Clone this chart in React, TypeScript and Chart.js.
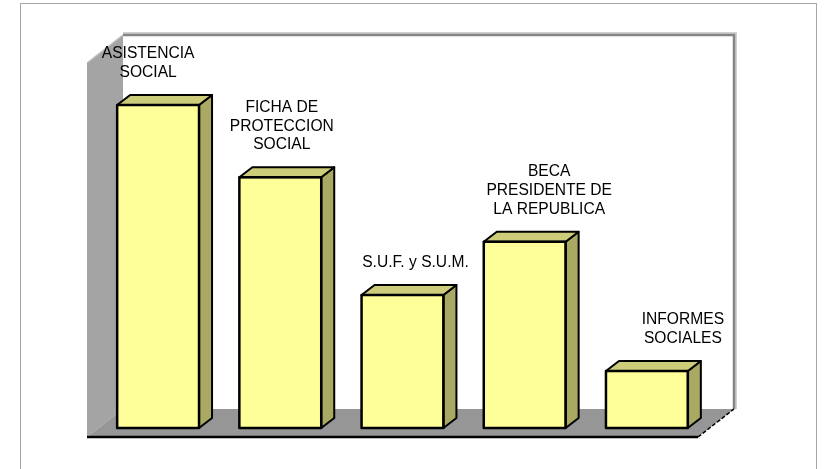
import React, { useEffect, useRef } from "react";
import { Chart, registerables } from "chart.js";

Chart.register(...registerables);

const categories = [
  "ASISTENCIA SOCIAL",
  "FICHA DE PROTECCION SOCIAL",
  "S.U.F. y S.U.M.",
  "BECA PRESIDENTE DE LA REPUBLICA",
  "INFORMES SOCIALES",
];
const labelLines = [
  ["ASISTENCIA", "SOCIAL"],
  ["FICHA DE", "PROTECCION", "SOCIAL"],
  ["S.U.F. y S.U.M."],
  ["BECA", "PRESIDENTE DE", "LA REPUBLICA"],
  ["INFORMES", "SOCIALES"],
];
const values = [170, 132, 70, 98, 30];
const yMax = 200;

const threeD = {
  id: "threeD",
  beforeDatasetsDraw(chart: any) {
    const { ctx, chartArea } = chart;
    const L = chartArea.left, R = chartArea.right, B = chartArea.bottom, T = chartArea.top;
    const dx = 36, dy = -28;
    const fy = B + 9;
    const fl = L - 10, fr = R - 10;
    const wallTop = T - 13;
    ctx.save();
    ctx.strokeStyle = "#a6a6a6";
    ctx.lineWidth = 1;
    ctx.strokeRect(20.5, 3.5, 796, 480);
    ctx.fillStyle = "#ffffff";
    ctx.fillRect(fl + dx, wallTop, fr - fl, fy + dy - wallTop);
    ctx.fillStyle = "#a4a4a4";
    ctx.beginPath();
    ctx.moveTo(fl, wallTop - dy);
    ctx.lineTo(fl + dx, wallTop);
    ctx.lineTo(fl + dx, fy + dy);
    ctx.lineTo(fl, fy);
    ctx.closePath();
    ctx.fill();
    ctx.fillStyle = "#969696";
    ctx.beginPath();
    ctx.moveTo(fl, fy);
    ctx.lineTo(fl + dx, fy + dy);
    ctx.lineTo(fr + dx, fy + dy);
    ctx.lineTo(fr, fy);
    ctx.closePath();
    ctx.fill();
    ctx.strokeStyle = "#d0d0d0";
    ctx.lineWidth = 2;
    ctx.beginPath();
    ctx.moveTo(fl + dx, wallTop - 2);
    ctx.lineTo(fr + dx + 2, wallTop - 2);
    ctx.lineTo(fr + dx + 2, fy + dy);
    ctx.stroke();
    ctx.strokeStyle = "#858585";
    ctx.lineWidth = 2.5;
    ctx.beginPath();
    ctx.moveTo(fl + dx, wallTop);
    ctx.lineTo(fr + dx, wallTop);
    ctx.lineTo(fr + dx, fy + dy);
    ctx.stroke();
    ctx.strokeStyle = "#bdbdbd";
    ctx.lineWidth = 1.5;
    ctx.beginPath();
    ctx.moveTo(fl, wallTop - dy);
    ctx.lineTo(fl + dx, wallTop);
    ctx.stroke();
    ctx.strokeStyle = "#000";
    ctx.lineWidth = 2.5;
    ctx.beginPath();
    ctx.moveTo(fl, fy);
    ctx.lineTo(fr, fy);
    ctx.stroke();
    ctx.lineWidth = 1.5;
    ctx.setLineDash([4, 2]);
    ctx.beginPath();
    ctx.moveTo(fr, fy);
    ctx.lineTo(fr + dx, fy + dy);
    ctx.stroke();
    ctx.restore();
  },
  afterDatasetsDraw(chart: any) {
    const { ctx } = chart;
    const meta = chart.getDatasetMeta(0);
    const ddx = 13, ddy = -10;
    ctx.save();
    ctx.lineJoin = "round";
    meta.data.forEach((bar: any, i: number) => {
      const p = bar.getProps(["x", "y", "base", "width"], true);
      const left = p.x - p.width / 2;
      const right = p.x + p.width / 2;
      const top = p.y;
      const bottom = p.base;
      ctx.strokeStyle = "#000";
      ctx.lineWidth = 2;
      ctx.fillStyle = "#a9a964";
      ctx.beginPath();
      ctx.moveTo(right, top);
      ctx.lineTo(right + ddx, top + ddy);
      ctx.lineTo(right + ddx, bottom + ddy);
      ctx.lineTo(right, bottom);
      ctx.closePath();
      ctx.fill();
      ctx.stroke();
      ctx.fillStyle = "#cccc7a";
      ctx.beginPath();
      ctx.moveTo(left, top);
      ctx.lineTo(left + ddx, top + ddy);
      ctx.lineTo(right + ddx, top + ddy);
      ctx.lineTo(right, top);
      ctx.closePath();
      ctx.fill();
      ctx.stroke();
      ctx.lineWidth = 2.5;
      ctx.strokeRect(left, top, right - left, bottom - top);
      const lines = labelLines[i];
      ctx.fillStyle = "#000";
      ctx.font = "15.6px 'Liberation Sans', Arial, sans-serif";
      ctx.textAlign = "center";
      ctx.textBaseline = "alphabetic";
      const cx = p.x - 10 + i * 11.5;
      const lh = 18.7;
      const baseY = top - 28;
      lines.forEach((ln: string, j: number) => {
        ctx.fillText(ln, cx, baseY - (lines.length - 1 - j) * lh);
      });
    });
    ctx.restore();
  },
};

export default function App() {
  const ref = useRef<HTMLCanvasElement | null>(null);
  useEffect(() => {
    document.body.style.margin = "0";
    const chart = new Chart(ref.current as HTMLCanvasElement, {
      type: "bar",
      data: {
        labels: categories,
        datasets: [
          {
            data: values,
            backgroundColor: "#ffff99",
            borderColor: "#000",
            borderWidth: 0,
            barPercentage: 0.67,
            categoryPercentage: 1,
          },
        ],
      },
      options: {
        responsive: false,
        animation: false,
        layout: { padding: { left: 97, right: 116, top: 48, bottom: 41 } },
        scales: {
          x: { display: false },
          y: { display: false, min: 0, max: yMax },
        },
        plugins: { legend: { display: false }, tooltip: { enabled: false } },
      },
      plugins: [threeD],
    });
    return () => chart.destroy();
  }, []);
  return (
    <div style={{ position: "absolute", left: 0, top: 0, width: 824, height: 469, background: "#fff" }}>
      <canvas ref={ref} width={824} height={469} />
    </div>
  );
}
